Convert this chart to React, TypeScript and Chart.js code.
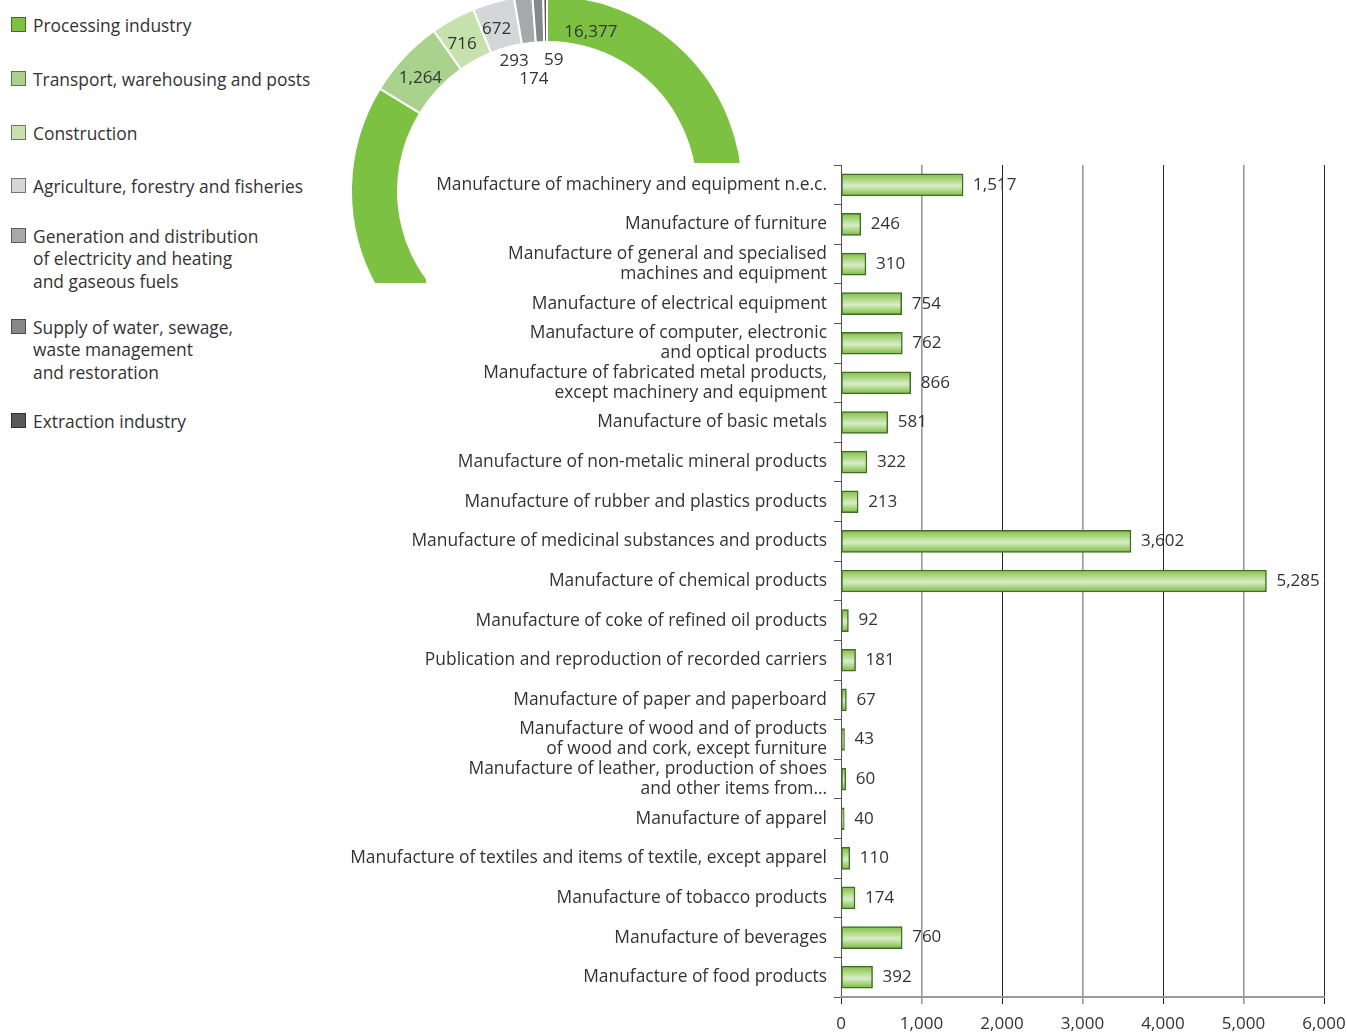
import React, { useEffect, useRef } from "react";
import { Chart, registerables } from "chart.js";

Chart.register(...registerables);

// ---------- DATA ----------
const sectorNames = [
  "Processing industry",
  "Transport, warehousing and posts",
  "Construction",
  "Agriculture, forestry and fisheries",
  "Generation and distribution\nof electricity and heating\nand gaseous fuels",
  "Supply of water, sewage,\nwaste management\nand restoration",
  "Extraction industry",
];
const sectorValues = [16377, 1264, 716, 672, 293, 174, 59];
const sectorColors = ["#7dc142", "#a9d28c", "#c6e1ab", "#d5d6d8", "#a7a8aa", "#87888a", "#58595b"];

const branchLabels: (string | string[])[] = [
  "Manufacture of machinery and equipment n.e.c.",
  "Manufacture of furniture",
  ["Manufacture of general and specialised", "machines and equipment"],
  "Manufacture of electrical equipment",
  ["Manufacture of computer, electronic", "and optical products"],
  ["Manufacture of fabricated metal products,", "except machinery and equipment"],
  "Manufacture of basic metals",
  "Manufacture of non-metalic mineral products",
  "Manufacture of rubber and plastics products",
  "Manufacture of medicinal substances and products",
  "Manufacture of chemical products",
  "Manufacture of coke of refined oil products",
  "Publication and reproduction of recorded carriers",
  "Manufacture of paper and paperboard",
  ["Manufacture of wood and of products", "of wood and cork, except furniture"],
  ["Manufacture of leather, production of shoes", "and other items from\u2026"],
  "Manufacture of apparel",
  "Manufacture of textiles and items of textile, except apparel",
  "Manufacture of tobacco products",
  "Manufacture of beverages",
  "Manufacture of food products",
];
const branchValues = [1517, 246, 310, 754, 762, 866, 581, 322, 213, 3602, 5285, 92, 181, 67, 43, 60, 40, 110, 174, 760, 392];

const axisMin = 0;
const axisMax = 6000;
const axisStep = 1000;

// ---------- STYLE ----------
const FONT = "'Open Sans', 'Noto Sans', sans-serif";
const TEXT = "#333333";
const LABEL_SIZE = 17.4;
const NUM_SIZE = 17;
const fmt = (v: number) => v.toLocaleString("en-US");

const donutLabelPlugin = {
  id: "donutLabels",
  afterDatasetsDraw(chart: any) {
    const ctx = chart.ctx;
    const meta = chart.getDatasetMeta(0);
    const data = chart.data.datasets[0].data as number[];
    const total = data.reduce((a, b) => a + b, 0);
    const nudges = [[-17, 0], [-7, 19], [8, 0]];
    let smallIdx = 0;
    ctx.save();
    ctx.font = `${NUM_SIZE}px ${FONT}`;
    ctx.fillStyle = TEXT;
    ctx.textBaseline = "middle";
    ctx.textAlign = "center";
    meta.data.forEach((arc: any, i: number) => {
      const p = arc.getProps(["x", "y", "startAngle", "endAngle", "innerRadius", "outerRadius"], true);
      const frac = data[i] / total;
      let ang: number, r: number, dx = 0, dy = 0;
      if (frac > 0.5) {
        ang = p.startAngle + 0.27;
        r = (p.innerRadius + p.outerRadius) / 2 - 8;
      } else if (frac > 0.02) {
        ang = (p.startAngle + p.endAngle) / 2 - 0.025;
        r = (p.innerRadius + p.outerRadius) / 2 - 3;
      } else {
        ang = (p.startAngle + p.endAngle) / 2;
        r = p.innerRadius - 18;
        const n = nudges[smallIdx++] || [0, 0];
        dx = n[0];
        dy = n[1];
      }
      const x = p.x + Math.cos(ang) * r + dx;
      const y = p.y + Math.sin(ang) * r + dy;
      ctx.fillText(fmt(data[i]), x, y);
    });
    ctx.restore();
  },
};

const barValuePlugin = {
  id: "barValues",
  afterDatasetsDraw(chart: any) {
    const ctx = chart.ctx;
    const meta = chart.getDatasetMeta(0);
    const data = chart.data.datasets[0].data as number[];
    ctx.save();
    ctx.font = `${NUM_SIZE}px ${FONT}`;
    ctx.fillStyle = TEXT;
    ctx.textBaseline = "middle";
    ctx.textAlign = "left";
    meta.data.forEach((bar: any, i: number) => {
      ctx.fillText(fmt(data[i]), bar.x + 10, bar.y);
    });
    ctx.restore();
  },
};

function Donut() {
  const ref = useRef<HTMLCanvasElement>(null);
  useEffect(() => {
    const chart = new Chart(ref.current!, {
      type: "doughnut",
      data: {
        labels: sectorNames,
        datasets: [
          {
            data: sectorValues,
            backgroundColor: sectorColors,
            borderColor: "#ffffff",
            borderWidth: 2,
          },
        ],
      },
      options: {
        responsive: false,
        animation: false,
        cutout: "76%",
        layout: { padding: 0 },
        plugins: { legend: { display: false }, tooltip: { enabled: false } },
      },
      plugins: [donutLabelPlugin],
    });
    return () => chart.destroy();
  }, []);
  return (
    <canvas
      ref={ref}
      width={394}
      height={394}
      style={{
        position: "absolute",
        left: 350,
        top: -6,
        width: 394,
        height: 394,
        clipPath: "polygon(0px 0px, 394px 0px, 394px 169px, 76px 169px, 76px 289px, 0px 289px)",
      }}
    />
  );
}

function Bars() {
  const ref = useRef<HTMLCanvasElement>(null);
  useEffect(() => {
    const chart = new Chart(ref.current!, {
      type: "bar",
      data: {
        labels: branchLabels,
        datasets: [
          {
            data: branchValues,
            barThickness: 22,
            borderColor: "#3f6d25",
            borderWidth: 1.5,
            borderSkipped: false,
            backgroundColor: (c: any) => {
              const ch = c.chart;
              const y = ch.scales?.y;
              if (!y || c.dataIndex === undefined) return "#8cc63f";
              const cy = y.getPixelForValue(c.dataIndex);
              if (!Number.isFinite(cy)) return "#8cc63f";
              const g = ch.ctx.createLinearGradient(0, cy - 11, 0, cy + 11);
              g.addColorStop(0, "#82c044");
              g.addColorStop(0.55, "#d8edc6");
              g.addColorStop(1, "#7cbb40");
              return g;
            },
          },
        ],
      },
      options: {
        indexAxis: "y",
        responsive: false,
        animation: false,
        layout: { padding: { top: 15, right: 23, left: 0, bottom: 0 } },
        plugins: { legend: { display: false }, tooltip: { enabled: false } },
        scales: {
          y: {
            grid: { drawOnChartArea: false, drawTicks: true, tickLength: 7, color: "#555555", offset: true },
            border: { display: true, color: "#555555", width: 1 },
            ticks: { font: { family: FONT, size: LABEL_SIZE, lineHeight: 1.15 }, color: TEXT, padding: 7, autoSkip: false },
            afterFit: (s: any) => {
              s.width = 501;
              s.paddingTop = 0;
              s.paddingBottom = 0;
            },
          },
          x: {
            min: axisMin,
            max: axisMax,
            grid: {
              color: (c: any) => (c.index % 2 ? "#999999" : "#222222"),
              lineWidth: (c: any) => (c.index % 2 ? 1.6 : 1),
              tickLength: 7,
            },
            border: { display: true, color: "#999999", width: 2 },
            ticks: {
              stepSize: axisStep,
              font: { family: FONT, size: NUM_SIZE },
              color: TEXT,
              padding: 10,
              maxRotation: 0,
              callback: (v: any) => fmt(Number(v)),
            },
            afterFit: (s: any) => {
              s.height = 35;
              s.paddingLeft = 0;
              s.paddingRight = 0;
            },
          },
        },
      },
      plugins: [barValuePlugin],
    });
    return () => chart.destroy();
  }, []);
  return (
    <canvas
      ref={ref}
      width={1007}
      height={882}
      style={{ position: "absolute", left: 340, top: 150, width: 1007, height: 882 }}
    />
  );
}

const legendGaps = [0, 31.5, 31.5, 30.5, 27.5, 23.5, 26.5];

function Legend() {
  return (
    <div style={{ position: "absolute", left: 11, top: 13.75, fontFamily: FONT, fontSize: LABEL_SIZE, color: TEXT, lineHeight: "22.5px" }}>
      {sectorNames.map((name, i) => (
        <div key={i} style={{ display: "flex", alignItems: "flex-start", marginTop: legendGaps[i] }}>
          <div
            style={{
              width: 15,
              height: 15,
              marginTop: 3,
              background: sectorColors[i],
              border: "1px solid rgba(0,0,0,0.45)",
              boxSizing: "border-box",
              flex: "none",
            }}
          />
          <div style={{ marginLeft: 7, whiteSpace: "pre" }}>{name}</div>
        </div>
      ))}
    </div>
  );
}

export default function App() {
  return (
    <div style={{ position: "absolute", left: 0, top: 0, width: 1347, height: 1032, overflow: "hidden", background: "#ffffff" }}>
      <Legend />
      <Donut />
      <Bars />
    </div>
  );
}
